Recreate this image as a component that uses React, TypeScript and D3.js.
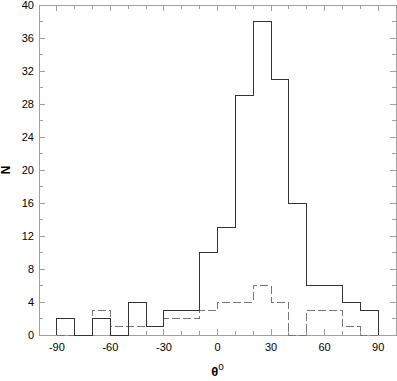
import React, { useEffect, useRef } from 'react';
import * as d3 from 'd3';

// bin left edges (width 10 deg)
const binStarts = [-90, -80, -70, -60, -50, -40, -30, -20, -10, 0, 10, 20, 30, 40, 50, 60, 70, 80];
const allCounts = [2, 0, 2, 0, 4, 1, 3, 3, 10, 13, 29, 38, 31, 16, 6, 6, 4, 3];
const subCounts = [0, 0, 3, 1, 1, 1, 2, 2, 3, 4, 4, 6, 4, 0, 3, 3, 1, 0];
const xTicks = [-90, -60, -30, 0, 30, 60, 90];
const yTicks = [0, 4, 8, 12, 16, 20, 24, 28, 32, 36, 40];

const W = 397;
const H = 381;
const margin = { top: 5, right: 1, bottom: 46, left: 39 };

function stepPath(counts: number[], x: d3.ScaleLinear<number, number>, y: d3.ScaleLinear<number, number>) {
    const p = d3.path();
    p.moveTo(x(binStarts[0]), y(0));
    counts.forEach((c, i) => {
        p.lineTo(x(binStarts[i]), y(c));
        p.lineTo(x(binStarts[i] + 10), y(c));
    });
    p.lineTo(x(binStarts[binStarts.length - 1] + 10), y(0));
    return p.toString();
}

export default function App() {
    const svgRef = useRef<SVGSVGElement>(null);

    useEffect(() => {
        const svg = d3.select(svgRef.current);
        svg.selectAll('*').remove();

        const x = d3.scaleLinear().domain([-100, 100]).range([margin.left, W - margin.right]);
        const y = d3.scaleLinear().domain([0, 40]).range([H - margin.bottom, margin.top]);
        const x0 = margin.left, x1 = W - margin.right, y0 = H - margin.bottom, y1 = margin.top;
        const axisCol = '#a0a0a0';

        const g = svg.append('g').attr('shape-rendering', 'crispEdges');

        // ticks, inward, on all four sides
        const xMinor = d3.range(-100, 101, 10);
        xMinor.forEach(v => {
            const len = v % 30 === 0 ? 6 : 4;
            g.append('line').attr('x1', x(v)).attr('x2', x(v)).attr('y1', y0).attr('y2', y0 - len).attr('stroke', axisCol);
            g.append('line').attr('x1', x(v)).attr('x2', x(v)).attr('y1', y1).attr('y2', y1 + len).attr('stroke', axisCol);
        });
        const yMinor = d3.range(0, 41, 2);
        yMinor.forEach(v => {
            const len = v % 4 === 0 ? 6 : 4;
            g.append('line').attr('x1', x0).attr('x2', x0 + len).attr('y1', y(v)).attr('y2', y(v)).attr('stroke', axisCol);
            g.append('line').attr('x1', x1).attr('x2', x1 - len).attr('y1', y(v)).attr('y2', y(v)).attr('stroke', axisCol);
        });

        g.append('rect')
            .attr('x', x0).attr('y', y1)
            .attr('width', x1 - x0).attr('height', y0 - y1)
            .attr('fill', 'none').attr('stroke', axisCol);

        // histograms
        svg.append('path')
            .attr('d', stepPath(subCounts, x, y))
            .attr('fill', 'none')
            .attr('stroke', '#777')
            .attr('stroke-width', 1)
            .attr('stroke-dasharray', '8,3')
            .attr('shape-rendering', 'crispEdges');

        svg.append('path')
            .attr('d', stepPath(allCounts, x, y))
            .attr('fill', 'none')
            .attr('stroke', '#333')
            .attr('stroke-width', 1)
            .attr('shape-rendering', 'crispEdges');

        // tick labels
        const font = '"Liberation Sans", Arial, sans-serif';
        svg.append('g').selectAll('text').data(xTicks).enter().append('text')
            .attr('x', d => x(d))
            .attr('y', y0 + 16)
            .attr('text-anchor', 'middle')
            .style('font-family', font).style('font-size', '11px')
            .text(d => d);

        svg.append('g').selectAll('text').data(yTicks).enter().append('text')
            .attr('x', x0 - 5)
            .attr('y', d => y(d) + 4)
            .attr('text-anchor', 'end')
            .style('font-family', font).style('font-size', '11px')
            .text(d => d);

        // axis titles
        svg.append('text')
            .attr('transform', `translate(10, ${(y0 + y1) / 2}) rotate(-90)`)
            .attr('text-anchor', 'middle')
            .style('font-family', font).style('font-size', '12px').style('font-weight', 'bold')
            .text('N');

        const t = svg.append('text')
            .attr('x', (x0 + x1) / 2)
            .attr('y', H - 5)
            .attr('text-anchor', 'middle')
            .style('font-family', font).style('font-size', '13px').style('font-weight', 'bold');
        t.append('tspan').text('θ');
        t.append('tspan').attr('dy', -6).style('font-size', '10px').style('font-weight', 'normal').text('o');
    }, []);

    return (
        <svg ref={svgRef} width={W} height={H} style={{ position: 'absolute', left: 0, top: 0, background: '#fff' }} />
    );
}
